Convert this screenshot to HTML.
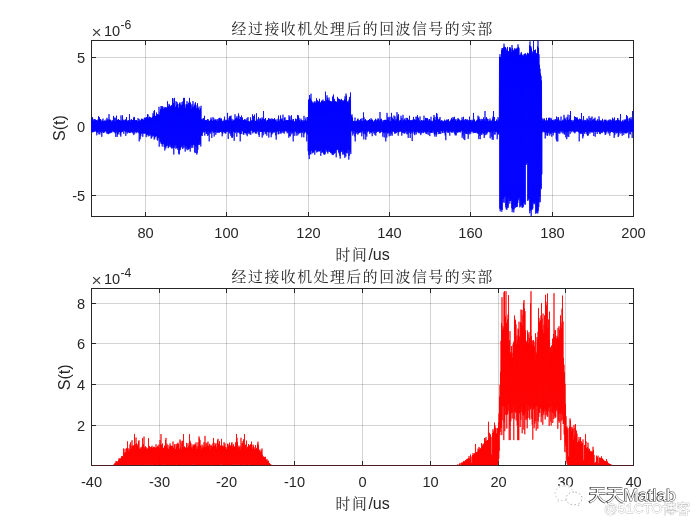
<!DOCTYPE html>
<html lang="zh-CN">
<head>
<meta charset="utf-8">
<title>经过接收机处理后的回波信号的实部</title>
<style>
html,body{margin:0;padding:0;background:#fff;}
body{width:700px;height:525px;overflow:hidden;}
svg{display:block;will-change:transform;}
</style>
</head>
<body>
<svg width="700" height="525" viewBox="0 0 700 525">
<rect width="700" height="525" fill="#fff"/>
<line x1="145.5" y1="40.5" x2="145.5" y2="216.5" stroke="#262626" stroke-opacity="0.2" stroke-width="1"/>
<line x1="226.5" y1="40.5" x2="226.5" y2="216.5" stroke="#262626" stroke-opacity="0.2" stroke-width="1"/>
<line x1="308.5" y1="40.5" x2="308.5" y2="216.5" stroke="#262626" stroke-opacity="0.2" stroke-width="1"/>
<line x1="389.5" y1="40.5" x2="389.5" y2="216.5" stroke="#262626" stroke-opacity="0.2" stroke-width="1"/>
<line x1="470.5" y1="40.5" x2="470.5" y2="216.5" stroke="#262626" stroke-opacity="0.2" stroke-width="1"/>
<line x1="552.5" y1="40.5" x2="552.5" y2="216.5" stroke="#262626" stroke-opacity="0.2" stroke-width="1"/>
<line x1="91.5" y1="57.5" x2="633.5" y2="57.5" stroke="#262626" stroke-opacity="0.2" stroke-width="1"/>
<line x1="91.5" y1="126.5" x2="633.5" y2="126.5" stroke="#262626" stroke-opacity="0.2" stroke-width="1"/>
<line x1="91.5" y1="195.5" x2="633.5" y2="195.5" stroke="#262626" stroke-opacity="0.2" stroke-width="1"/>
<rect x="91.5" y="40.5" width="542.0" height="176.0" fill="none" stroke="#262626" stroke-width="1"/>
<path d="M145.5 216.5v-4.5M145.5 40.5v4.5M226.5 216.5v-4.5M226.5 40.5v4.5M308.5 216.5v-4.5M308.5 40.5v4.5M389.5 216.5v-4.5M389.5 40.5v4.5M470.5 216.5v-4.5M470.5 40.5v4.5M552.5 216.5v-4.5M552.5 40.5v4.5M91.5 57.5h4.5M633.5 57.5h-4.5M91.5 126.5h4.5M633.5 126.5h-4.5M91.5 195.5h4.5M633.5 195.5h-4.5" stroke="#262626" stroke-width="1" fill="none"/>
<polyline points="91.5,118.8 91.8,132.2 92,120.7 92.2,131.9 92.5,117.1 92.8,132.3 93,118.9 93.2,131.7 93.5,120.7 93.8,131.8 94,120.5 94.2,131.8 94.5,119.1 94.8,130.6 95,121.7 95.2,131.4 95.5,119.5 95.8,130.6 96,120.2 96.2,131.6 96.5,120.1 96.8,135.3 97,120.5 97.2,132.6 97.5,121.3 97.8,132.4 98,119.5 98.2,131.1 98.5,116.3 98.8,134.2 99,120.3 99.2,131.5 99.5,117.3 99.8,134.5 100,119 100.2,131.6 100.5,119.3 100.8,131.9 101,121.2 101.2,132.9 101.5,121.8 101.8,136.8 102,119.8 102.2,131.7 102.5,121 102.8,131.3 103,118.6 103.2,133 103.5,121 103.8,132.8 104,121.8 104.2,131.7 104.5,120.6 104.8,132.4 105,120.8 105.2,130.9 105.5,121.1 105.8,131.3 106,119.6 106.2,131.3 106.5,121 106.8,133.2 107,117.8 107.2,133.7 107.5,120.2 107.8,131.7 108,119 108.2,134.2 108.5,120.5 108.8,133.8 109,114.1 109.2,132.6 109.5,119.9 109.8,133.3 110,119.4 110.2,133.1 110.5,120.1 110.8,132.3 111,120.3 111.2,132.4 111.5,121.9 111.8,132.6 112,121.1 112.2,131 112.5,120.3 112.8,131.2 113,121.8 113.2,131.8 113.5,115.9 113.8,131.4 114,117.7 114.2,132.4 114.5,121.3 114.8,131.8 115,117.6 115.2,133.3 115.5,121.6 115.8,136.9 116,118.3 116.2,130.2 116.5,115.7 116.8,132.6 117,120.8 117.2,136.9 117.5,119.8 117.8,134.5 118,120.1 118.2,133.8 118.5,119 118.8,131.8 119,120.2 119.2,132.1 119.5,120 119.8,131.9 120,120.7 120.2,135 120.5,120.7 120.8,136.6 121,115.4 121.2,132.6 121.5,120.6 121.8,132 122,120.9 122.2,131.7 122.5,115.4 122.8,131.5 123,119.5 123.2,131 123.5,120.9 123.8,133.8 124,120.1 124.2,130.1 124.5,120.9 124.8,131.3 125,119.7 125.2,131.1 125.5,119.6 125.8,135.9 126,119.8 126.2,132.1 126.5,117 126.8,131.6 127,121.5 127.2,133.6 127.5,121.2 127.8,131 128,120.2 128.2,132.6 128.5,120.6 128.8,132.2 129,120.7 129.2,132.4 129.5,114.1 129.8,133.1 130,119.9 130.2,132.9 130.5,122 130.8,131.4 131,119.8 131.2,131.7 131.5,119.2 131.8,132.5 132,120.7 132.2,131.9 132.5,120.1 132.8,133.4 133,120 133.2,131.8 133.5,118.1 133.8,135.1 134,116.9 134.2,131 134.5,117.4 134.8,133.6 135,120.6 135.2,132.3 135.5,120.4 135.8,131.3 136,120.1 136.2,132 136.5,120.2 136.8,133.2 137,120.8 137.2,131.8 137.5,121.6 137.8,131.1 138,118.2 138.2,132.1 138.5,121.1 138.8,133.1 139,118.9 139.2,141.4 139.5,121.3 139.8,133.5 140,119.8 140.2,139.3 140.5,120.9 140.8,136.1 141,120.3 141.2,134 141.5,118.7 141.8,132.4 142,119.8 142.2,133.3 142.5,119.3 142.8,136.8 143,118.7 143.2,133.4 143.5,120.1 143.8,133.4 144,120 144.2,133.7 144.5,117.7 144.8,133 145,119.5 145.2,133.6 145.5,117.7 145.8,133.8 146,118.7 146.2,137.1 146.5,117 146.8,134.8 147,118.6 147.2,134.6 147.5,114.4 147.8,134.6 148,114.4 148.2,136.4 148.5,118.4 148.8,135.3 149,117.7 149.2,133.5 149.5,116.7 149.8,136.1 150,118.3 150.2,134.3 150.5,117.3 150.8,135.1 151,117.4 151.2,138.7 151.5,118 151.8,137.5 152,118.1 152.2,135.1 152.5,116.8 152.8,136.5 153,113.2 153.2,135.9 153.5,116 153.8,135.4 154,111 154.2,139.6 154.5,110.3 154.8,138.4 155,115.7 155.2,136.8 155.5,116.1 155.8,136.3 156,115.9 156.2,136.2 156.5,112.6 156.8,136.2 157,116 157.2,139.7 157.5,114.2 157.8,140.7 158,114.5 158.2,138.2 158.5,114.5 158.8,137.3 159,106.8 159.2,146.7 159.5,115 159.8,138.5 160,111.7 160.2,142 160.5,109.2 160.8,142.4 161,106 161.2,144 161.5,108.6 161.8,143.7 162,106.2 162.2,146.5 162.5,106.5 162.8,143.8 163,109.7 163.2,144.3 163.5,108.8 163.8,143.3 164,106.8 164.2,147 164.5,108.2 164.8,150.5 165,107.8 165.2,144.8 165.5,107.2 165.8,148.5 166,108.1 166.2,146.5 166.5,107.4 166.8,145.9 167,108.3 167.2,143.5 167.5,101.3 167.8,145.8 168,106.8 168.2,148.2 168.5,106.3 168.8,147.3 169,103.9 169.2,146.6 169.5,104.9 169.8,144.2 170,108.6 170.2,144.4 170.5,106.3 170.8,147.2 171,105.6 171.2,147.3 171.5,105.2 171.8,148.6 172,106.9 172.2,145.6 172.5,98 172.8,148.3 173,98.5 173.2,147.7 173.5,103.1 173.8,154.5 174,105.4 174.2,147.8 174.5,97.9 174.8,145.5 175,106.7 175.2,145.4 175.5,107.4 175.8,148.6 176,101.2 176.2,145.1 176.5,105.3 176.8,148.2 177,102 177.2,148.1 177.5,103.7 177.8,149.8 178,104.1 178.2,147.2 178.5,108.3 178.8,153.7 179,107.5 179.2,154.5 179.5,103.2 179.8,150.3 180,102.4 180.2,149.7 180.5,104.5 180.8,148.1 181,105.7 181.2,146.9 181.5,105.2 181.8,144.9 182,102.1 182.2,146.6 182.5,103.8 182.8,149 183,101.2 183.2,147.8 183.5,97.9 183.8,145 184,107.4 184.2,145.2 184.5,97.9 184.8,147.5 185,104.4 185.2,151.6 185.5,107.8 185.8,146.1 186,107.7 186.2,148.9 186.5,104.4 186.8,145.9 187,101.2 187.2,150.2 187.5,104.3 187.8,148.1 188,105.8 188.2,149.7 188.5,102.7 188.8,149 189,105.1 189.2,148.6 189.5,97.9 189.8,147.4 190,101.9 190.2,151.6 190.5,103.1 190.8,145.8 191,105.4 191.2,148.1 191.5,108.9 191.8,144.2 192,104.2 192.2,146.1 192.5,107.2 192.8,147.9 193,101.1 193.2,144.6 193.5,107.8 193.8,144.6 194,106.2 194.2,145.2 194.5,105.3 194.8,152.2 195,103.5 195.2,153.1 195.5,102.3 195.8,146.6 196,105.3 196.2,146.5 196.5,108.3 196.8,154.5 197,108.5 197.2,153.1 197.5,103.3 197.8,149.8 198,108.7 198.2,143.9 198.5,108.4 198.8,145.1 199,106.5 199.2,144.9 199.5,110.3 199.8,141.5 200,109.4 200.2,144.1 200.5,108.3 200.8,146.5 201,105.8 201.2,135.1 201.5,119.2 201.8,135.9 202,119.9 202.2,135.7 202.5,119.5 202.8,132.8 203,118.5 203.2,131.8 203.5,118 203.8,131.6 204,121.5 204.2,132.4 204.5,115.8 204.8,135.6 205,120.5 205.2,131.8 205.5,120 205.8,130.9 206,120.4 206.2,133.8 206.5,120.5 206.8,133.9 207,120.5 207.2,131.7 207.5,119.2 207.8,136 208,119 208.2,134.9 208.5,120.5 208.8,130.8 209,121.2 209.2,141.4 209.5,121.2 209.8,132.7 210,120.6 210.2,133.8 210.5,119.8 210.8,131.9 211,117.6 211.2,131.6 211.5,119.3 211.8,137.9 212,122.3 212.2,131 212.5,120.9 212.8,131.4 213,117.1 213.2,133.1 213.5,120 213.8,131.5 214,118.4 214.2,136.5 214.5,120.4 214.8,131.9 215,120 215.2,132 215.5,119.5 215.8,134.8 216,119.6 216.2,132.4 216.5,121 216.8,130.7 217,119.5 217.2,133.1 217.5,121.7 217.8,131.6 218,119 218.2,131.6 218.5,120.8 218.8,132.8 219,118.1 219.2,132.5 219.5,118.3 219.8,132.2 220,117.7 220.2,131.9 220.5,119.1 220.8,131.9 221,120.7 221.2,131.4 221.5,118.5 221.8,132.4 222,120.6 222.2,136.3 222.5,121.2 222.8,133.7 223,121 223.2,131.9 223.5,121.7 223.8,132.1 224,119.6 224.2,131.6 224.5,116.7 224.8,132.9 225,120.9 225.2,133.4 225.5,120.7 225.8,133.5 226,119.7 226.2,131.9 226.5,120.3 226.8,131.8 227,120.3 227.2,131 227.5,112.9 227.8,131.8 228,120.1 228.2,138.9 228.5,120.8 228.8,131.2 229,117.9 229.2,132.5 229.5,116.3 229.8,133.6 230,118.5 230.2,131.2 230.5,116.5 230.8,135.8 231,115.6 231.2,133.4 231.5,120.7 231.8,137.4 232,118.9 232.2,137.9 232.5,121.3 232.8,136.6 233,120.6 233.2,131.6 233.5,120.2 233.8,131.8 234,119.6 234.2,140.8 234.5,120.8 234.8,132.3 235,114.3 235.2,133.2 235.5,118.5 235.8,131.7 236,119.6 236.2,131.2 236.5,117.7 236.8,136.7 237,116.1 237.2,131.7 237.5,118.4 237.8,132.8 238,119.5 238.2,131.6 238.5,113.4 238.8,132.7 239,115.7 239.2,131.9 239.5,119.1 239.8,133.7 240,119.8 240.2,141.4 240.5,117 240.8,134.1 241,120.1 241.2,133.9 241.5,115.5 241.8,131.3 242,119.7 242.2,131 242.5,117.6 242.8,131.4 243,120.8 243.2,134.3 243.5,120.1 243.8,134.8 244,120.5 244.2,133.1 244.5,119.1 244.8,131.9 245,120.3 245.2,133.2 245.5,119.5 245.8,133 246,120.7 246.2,134.5 246.5,120.4 246.8,133 247,118.2 247.2,136.2 247.5,121.3 247.8,132.7 248,117.1 248.2,133.9 248.5,121.2 248.8,131.9 249,121.4 249.2,132.8 249.5,121.8 249.8,134.3 250,121.6 250.2,130.8 250.5,117.4 250.8,134.8 251,121.5 251.2,130.2 251.5,120.9 251.8,130.5 252,120 252.2,130.9 252.5,114.3 252.8,133.4 253,120 253.2,132.2 253.5,116.2 253.8,131.9 254,120.2 254.2,131.8 254.5,114.6 254.8,131.1 255,121.5 255.2,133.2 255.5,120.9 255.8,133.5 256,120.9 256.2,131.1 256.5,113.3 256.8,133.6 257,119.1 257.2,131.8 257.5,121.2 257.8,131.2 258,120.1 258.2,131.1 258.5,117.2 258.8,134.8 259,119 259.2,136.9 259.5,121.7 259.8,130.8 260,118.5 260.2,131.7 260.5,118.5 260.8,132 261,119.5 261.2,132 261.5,120.4 261.8,132 262,117.4 262.2,137.5 262.5,118.5 262.8,132.5 263,121 263.2,135.3 263.5,111 263.8,131.2 264,119.5 264.2,131.9 264.5,119.2 264.8,131.3 265,119.2 265.2,134.2 265.5,118 265.8,131.7 266,121.8 266.2,133.1 266.5,121.4 266.8,135.7 267,120.3 267.2,131.2 267.5,119.9 267.8,131.7 268,119.9 268.2,132.2 268.5,118.4 268.8,137.6 269,118.4 269.2,132.3 269.5,119.2 269.8,131.3 270,120.8 270.2,132.5 270.5,119.3 270.8,131.2 271,118.6 271.2,137.2 271.5,120.5 271.8,134.6 272,118.5 272.2,132.5 272.5,119.2 272.8,133.4 273,119.4 273.2,132 273.5,119.6 273.8,131.7 274,119.2 274.2,132.7 274.5,118.1 274.8,131.6 275,119.8 275.2,131.5 275.5,120.3 275.8,135.4 276,119.4 276.2,139.6 276.5,121.9 276.8,131.3 277,120.8 277.2,131.9 277.5,121.8 277.8,130.7 278,118.7 278.2,134.2 278.5,115.6 278.8,134.2 279,122.1 279.2,131 279.5,120.8 279.8,130.9 280,119.4 280.2,133.6 280.5,115.4 280.8,132 281,119.1 281.2,133.5 281.5,119.3 281.8,131 282,118.3 282.2,132.5 282.5,120.2 282.8,131 283,114.7 283.2,132.8 283.5,121.3 283.8,130.5 284,120.9 284.2,133.7 284.5,117.9 284.8,131.7 285,117.2 285.2,131.2 285.5,120.6 285.8,130.5 286,119.9 286.2,130.9 286.5,120.5 286.8,131.5 287,120.5 287.2,133.3 287.5,120.1 287.8,130.7 288,121 288.2,132.6 288.5,120.1 288.8,137.7 289,115.3 289.2,130.9 289.5,117.5 289.8,136 290,116.3 290.2,136.5 290.5,120.2 290.8,132.4 291,120.7 291.2,131.3 291.5,115.3 291.8,134.3 292,119.7 292.2,132 292.5,121.2 292.8,133 293,119.3 293.2,141.4 293.5,119.2 293.8,131.5 294,121.1 294.2,135.9 294.5,121.7 294.8,131.4 295,121.9 295.2,130.6 295.5,118.7 295.8,132.2 296,119.2 296.2,135.7 296.5,121 296.8,133 297,119.1 297.2,130.9 297.5,115 297.8,135.4 298,117.8 298.2,132.6 298.5,115.5 298.8,133.9 299,117.9 299.2,132.8 299.5,119.9 299.8,132.7 300,120.6 300.2,133.2 300.5,121.8 300.8,131.9 301,118.7 301.2,131.4 301.5,120 301.8,137.2 302,120.9 302.2,132.9 302.5,121.5 302.8,131.7 303,120 303.2,131.1 303.5,121.6 303.8,137.3 304,115.9 304.2,133.7 304.5,120.8 304.8,132.5 305,120.6 305.2,131.3 305.5,119.5 305.8,132.2 306,117.4 306.2,132.5 306.5,120.8 306.8,141.4 307,121 307.2,134.6 307.5,117 307.8,133.9 308,119.5 308.2,151.3 308.5,100.1 308.8,155 309,99.1 309.2,159.1 309.5,95 309.8,151.1 310,99.5 310.2,153.9 310.5,98.2 310.8,154.5 311,93.7 311.2,150.7 311.5,100.4 311.8,150.5 312,101.4 312.2,153.4 312.5,102.6 312.8,152.3 313,103.3 313.2,152.5 313.5,103.5 313.8,152.3 314,101.8 314.2,150.2 314.5,102.5 314.8,154.7 315,101.1 315.2,150.3 315.5,102.7 315.8,149.6 316,103 316.2,150.4 316.5,98.3 316.8,152.5 317,103 317.2,151.7 317.5,100.2 317.8,151.2 318,101.8 318.2,150.3 318.5,101.9 318.8,151.4 319,101 319.2,151.4 319.5,98.8 319.8,150.9 320,102 320.2,151.1 320.5,103.2 320.8,155.9 321,102.6 321.2,149.6 321.5,100.9 321.8,153 322,100.5 322.2,151.6 322.5,100.8 322.8,152 323,99.6 323.2,152.7 323.5,101.7 323.8,154.1 324,101.4 324.2,154.5 324.5,101 324.8,154.6 325,101.6 325.2,153.5 325.5,91.7 325.8,149.5 326,102.8 326.2,149.5 326.5,99.9 326.8,151.3 327,95.3 327.2,152.1 327.5,97.8 327.8,153.5 328,99.9 328.2,151.2 328.5,100 328.8,149.3 329,97.6 329.2,152 329.5,100.6 329.8,151.9 330,101 330.2,151.6 330.5,101.5 330.8,152.9 331,101.4 331.2,153.3 331.5,101.8 331.8,153.1 332,101.5 332.2,154.9 332.5,96.6 332.8,154.3 333,102.1 333.2,155.1 333.5,94.6 333.8,153.1 334,100.9 334.2,153.7 334.5,98.9 334.8,153.2 335,101.2 335.2,152.8 335.5,101.6 335.8,150.7 336,101.4 336.2,157.3 336.5,102.1 336.8,149.2 337,102.5 337.2,149.9 337.5,96.9 337.8,149.5 338,102.2 338.2,150.3 338.5,98.6 338.8,152.5 339,98.9 339.2,153.5 339.5,99.3 339.8,155.7 340,100 340.2,158.6 340.5,100.5 340.8,152.2 341,99.4 341.2,152 341.5,98.9 341.8,149.9 342,103.3 342.2,150.8 342.5,100.3 342.8,154.6 343,101.3 343.2,153.6 343.5,101.4 343.8,150.9 344,100.1 344.2,154.8 344.5,99.2 344.8,157.8 345,96.4 345.2,152.6 345.5,99.9 345.8,156.6 346,93.6 346.2,152.1 346.5,95.7 346.8,152.8 347,101.6 347.2,153.4 347.5,102.1 347.8,149.7 348,101 348.2,150.1 348.5,102.9 348.8,159.6 349,99.6 349.2,155.8 349.5,96.9 349.8,149.8 350,100.5 350.2,152.1 350.5,92.5 350.8,154.1 351,121.3 351.2,130.6 351.5,115.6 351.8,131.5 352,114.4 352.2,130.6 352.5,117.4 352.8,135.5 353,120.8 353.2,133.7 353.5,121.3 353.8,130.7 354,121.2 354.2,131.2 354.5,121.3 354.8,136.5 355,117.6 355.2,141.4 355.5,121.6 355.8,132.7 356,121.1 356.2,133.7 356.5,121.4 356.8,131.7 357,120.5 357.2,132 357.5,119.4 357.8,134.6 358,118.6 358.2,133.5 358.5,121.3 358.8,132.9 359,120.1 359.2,132.6 359.5,121.8 359.8,132.8 360,120 360.2,130.6 360.5,118.9 360.8,132.4 361,119.5 361.2,132.2 361.5,121.2 361.8,136.3 362,118.2 362.2,131.7 362.5,121.4 362.8,130.8 363,121.2 363.2,133.7 363.5,112.4 363.8,139.4 364,117.3 364.2,130.8 364.5,120.6 364.8,133.6 365,120.1 365.2,134.4 365.5,119.1 365.8,139.7 366,121.5 366.2,131 366.5,120.4 366.8,136.6 367,120.8 367.2,132.5 367.5,121.2 367.8,130.9 368,120.5 368.2,130.6 368.5,120 368.8,131.3 369,120.1 369.2,131.8 369.5,119 369.8,133.8 370,120.6 370.2,131.4 370.5,120 370.8,132.6 371,118.2 371.2,132.8 371.5,119.5 371.8,132 372,120.4 372.2,136.2 372.5,119.7 372.8,131.1 373,120.8 373.2,131.6 373.5,121.8 373.8,133.4 374,122 374.2,131.1 374.5,120.5 374.8,134.7 375,120.3 375.2,131.4 375.5,118.8 375.8,135.6 376,119.7 376.2,132.7 376.5,121.7 376.8,131.7 377,119.7 377.2,130.5 377.5,120.2 377.8,131.9 378,118.2 378.2,131.6 378.5,119.1 378.8,131.3 379,120.3 379.2,131.1 379.5,120.9 379.8,133.2 380,112 380.2,132.6 380.5,119 380.8,132.3 381,120.6 381.2,131.6 381.5,118.8 381.8,130.4 382,120.2 382.2,132 382.5,122 382.8,136.7 383,121.6 383.2,132.1 383.5,120.4 383.8,133.3 384,120.7 384.2,137.5 384.5,120 384.8,132.4 385,119.8 385.2,132.7 385.5,120.1 385.8,141.4 386,119.9 386.2,131.8 386.5,120.5 386.8,137.5 387,112.9 387.2,132.1 387.5,119.3 387.8,133.8 388,116.9 388.2,133 388.5,120 388.8,131.7 389,117.4 389.2,136.3 389.5,120.9 389.8,133.5 390,116.8 390.2,131.4 390.5,121.2 390.8,135.8 391,121.3 391.2,134.1 391.5,112.9 391.8,131.3 392,117.3 392.2,135.7 392.5,118.7 392.8,131.7 393,119.4 393.2,131.1 393.5,119.7 393.8,131.6 394,115.6 394.2,131.8 394.5,120.3 394.8,133.9 395,116.4 395.2,133.2 395.5,121 395.8,133.2 396,119 396.2,132.9 396.5,120 396.8,131.6 397,112.1 397.2,132.2 397.5,117.3 397.8,132 398,115.4 398.2,135.6 398.5,114.2 398.8,132.3 399,121.2 399.2,132.1 399.5,121.5 399.8,130.3 400,119.9 400.2,131.2 400.5,120 400.8,131.6 401,115.8 401.2,131.7 401.5,119.8 401.8,135.6 402,118.1 402.2,132.7 402.5,121.3 402.8,132.5 403,114.8 403.2,132.1 403.5,120.1 403.8,133.3 404,120.9 404.2,133.2 404.5,118.7 404.8,133.5 405,120 405.2,132.7 405.5,120.5 405.8,131.5 406,117.9 406.2,131 406.5,120.9 406.8,134.2 407,117.9 407.2,131.6 407.5,118.2 407.8,134.2 408,119.4 408.2,137.9 408.5,120.1 408.8,130.9 409,120.1 409.2,133 409.5,115.8 409.8,131.6 410,120.6 410.2,138 410.5,120.5 410.8,133.8 411,120.5 411.2,131.4 411.5,120.5 411.8,132.5 412,120.4 412.2,141.1 412.5,119.8 412.8,132.6 413,121.5 413.2,131.1 413.5,116.9 413.8,131.6 414,119 414.2,134.1 414.5,119.8 414.8,135.2 415,119.9 415.2,132.6 415.5,120.1 415.8,131.8 416,116.7 416.2,134.4 416.5,119.8 416.8,131.4 417,116.7 417.2,132.3 417.5,115.1 417.8,130.6 418,121.4 418.2,132.4 418.5,117.7 418.8,132.9 419,120 419.2,133.3 419.5,120.8 419.8,132.1 420,116.5 420.2,130.7 420.5,121.3 420.8,135.1 421,121.9 421.2,133.5 421.5,120 421.8,132.2 422,120.1 422.2,132.6 422.5,121.2 422.8,130.8 423,121.1 423.2,133.2 423.5,120.3 423.8,132.4 424,115.7 424.2,132.3 424.5,121.1 424.8,130.9 425,120.2 425.2,131.8 425.5,117.9 425.8,133.6 426,119.2 426.2,132.1 426.5,118.2 426.8,134.1 427,118.3 427.2,132.6 427.5,118.3 427.8,131.6 428,120.5 428.2,134.9 428.5,121.3 428.8,131.7 429,119.2 429.2,130.4 429.5,119.2 429.8,136.1 430,121.4 430.2,133 430.5,120.6 430.8,132 431,116.8 431.2,132.5 431.5,121.4 431.8,132.8 432,120.7 432.2,132.9 432.5,121.6 432.8,130.8 433,121.2 433.2,130.7 433.5,118.1 433.8,132.5 434,115 434.2,134.3 434.5,119.5 434.8,136.5 435,116.9 435.2,132.9 435.5,120 435.8,134.3 436,120.9 436.2,136.7 436.5,113.1 436.8,134.4 437,113.7 437.2,131.9 437.5,116.8 437.8,131.7 438,118.9 438.2,131.7 438.5,119.8 438.8,134.1 439,120.7 439.2,133.9 439.5,118.8 439.8,133 440,117 440.2,131.2 440.5,120.8 440.8,134 441,121.1 441.2,130.8 441.5,120.4 441.8,130.8 442,120.5 442.2,132.6 442.5,121.3 442.8,133.1 443,120.8 443.2,131 443.5,121.7 443.8,130.4 444,121.8 444.2,132.8 444.5,119.7 444.8,132.8 445,121.3 445.2,135.4 445.5,120.8 445.8,140.2 446,120.6 446.2,130.8 446.5,120.6 446.8,131.7 447,119.3 447.2,130.5 447.5,120.2 447.8,132.9 448,120.3 448.2,132.1 448.5,119.2 448.8,132.8 449,121.1 449.2,131 449.5,122 449.8,135.6 450,120.9 450.2,131 450.5,120.6 450.8,131.8 451,119.5 451.2,131.3 451.5,117.9 451.8,132.5 452,119.2 452.2,132.7 452.5,119.7 452.8,131.6 453,117 453.2,131 453.5,118.5 453.8,132.5 454,121.8 454.2,130.9 454.5,116.8 454.8,133.8 455,120.4 455.2,135.4 455.5,119.3 455.8,134.1 456,121.2 456.2,135.4 456.5,120.9 456.8,131.8 457,119.1 457.2,132 457.5,120.2 457.8,133 458,118.1 458.2,131.6 458.5,118.8 458.8,131.9 459,119.1 459.2,132 459.5,120.3 459.8,132.1 460,120.7 460.2,132.5 460.5,121.2 460.8,131 461,120.2 461.2,131.3 461.5,120.6 461.8,130.3 462,117.3 462.2,137.8 462.5,119.5 462.8,135.3 463,121.4 463.2,130.9 463.5,116.8 463.8,139.2 464,120.3 464.2,132.4 464.5,120.7 464.8,140.1 465,119.5 465.2,131.7 465.5,119.1 465.8,133.7 466,121.9 466.2,133.8 466.5,120.2 466.8,133.7 467,119 467.2,134.1 467.5,120.1 467.8,130.5 468,121.8 468.2,138.8 468.5,120.7 468.8,133.6 469,120 469.2,132.1 469.5,116.7 469.8,134.4 470,120.7 470.2,131.4 470.5,120.1 470.8,133.5 471,120.3 471.2,131.6 471.5,122 471.8,130.7 472,119.7 472.2,131.8 472.5,121.5 472.8,131.2 473,120.2 473.2,133.2 473.5,112.9 473.8,132 474,119.9 474.2,132.8 474.5,119.5 474.8,132.6 475,121.5 475.2,133 475.5,121.8 475.8,132 476,121.4 476.2,133.2 476.5,120.7 476.8,131.6 477,119.9 477.2,132.5 477.5,119.7 477.8,133.7 478,115.7 478.2,133.3 478.5,118.3 478.8,139.1 479,116.7 479.2,133.1 479.5,119 479.8,135.8 480,120.3 480.2,139.2 480.5,120.9 480.8,132.5 481,118.9 481.2,134.3 481.5,120.9 481.8,135 482,119.1 482.2,132.8 482.5,119.6 482.8,131.9 483,120.8 483.2,134.1 483.5,117.5 483.8,133.2 484,121.1 484.2,138 484.5,119.5 484.8,135.4 485,111 485.2,131.4 485.5,121.3 485.8,134.8 486,118.4 486.2,132.9 486.5,117.1 486.8,134.4 487,121.2 487.2,132.9 487.5,118.8 487.8,132 488,119 488.2,131.6 488.5,121.3 488.8,131.5 489,121.6 489.2,132.3 489.5,120.6 489.8,132.1 490,118.5 490.2,138.3 490.5,121.3 490.8,132.4 491,120.2 491.2,131.1 491.5,121.3 491.8,136.8 492,121.4 492.2,139.6 492.5,118.7 492.8,132.2 493,116.6 493.2,139.8 493.5,111 493.8,130.9 494,122 494.2,134.6 494.5,117 494.8,131.4 495,121.2 495.2,134.5 495.5,121.3 495.8,131.8 496,121.1 496.2,131.5 496.5,119.5 496.8,132.2 497,120.5 497.2,139.3 497.5,121.4 497.8,133.9 498,117.2 498.2,134.7 498.5,120.2 498.8,132.7 499,118.7 499.2,133.6 499.5,56.9 499.8,208.7 500,54.2 500.2,211.4 500.5,57 500.8,209.3 501,57 501.2,209.4 501.5,50.1 501.8,211.7 502,48.1 502.2,209.8 502.5,48.2 502.8,198.6 503,49.9 503.2,202.4 503.5,47.5 503.8,198.8 504,43.7 504.2,202.8 504.5,46.7 504.8,197 505,48.6 505.2,196.1 505.5,47.2 505.8,207.2 506,48.4 506.2,208.8 506.5,50.4 506.8,209.9 507,50.3 507.2,208.2 507.5,46.9 507.8,205.3 508,51.3 508.2,207.7 508.5,51.3 508.8,198.1 509,51.9 509.2,201 509.5,47.5 509.8,203.6 510,47.1 510.2,201 510.5,48.3 510.8,201 511,49.1 511.2,199.6 511.5,52.2 511.8,208.2 512,45 512.2,212.2 512.5,48.2 512.8,209.6 513,49.7 513.2,209.2 513.5,50.8 513.8,212.4 514,50.2 514.2,209.1 514.5,48.4 514.8,205.3 515,51.9 515.2,207.9 515.5,48.8 515.8,206.5 516,48.8 516.2,207.2 516.5,49.2 516.8,206.6 517,47.8 517.2,206.9 517.5,48 517.8,203 518,44.4 518.2,200.2 518.5,46.9 518.8,198.8 519,47.8 519.2,197.4 519.5,54.9 519.8,207.3 520,54.9 520.2,200.8 520.5,54.6 520.8,206.7 521,52.7 521.2,205.6 521.5,52.4 521.8,205.1 522,54.5 522.2,208 522.5,55.5 522.8,206.6 523,55.4 523.2,207.2 523.5,56.3 523.8,202.5 524,54.2 524.2,201.8 524.5,54.2 524.8,204.3 525,53.5 525.2,204.6 525.5,53.5 525.8,164.9 526,54.8 526.2,164.7 526.5,56.3 526.8,162.5 527,54.2 527.2,163.1 527.5,52.8 527.8,200.9 528,53.5 528.2,200.1 528.5,53.7 528.8,198.4 529,53.8 529.2,198.3 529.5,45.4 529.8,213.3 530,41.4 530.2,210.9 530.5,46.5 530.8,209.4 531,46.5 531.2,216 531.5,48.6 531.8,209.9 532,52.6 532.2,209.5 532.5,52.9 532.8,208.4 533,51.1 533.2,202.8 533.5,40.5 533.8,203.3 534,50.6 534.2,204.3 534.5,50.5 534.8,203.5 535,50.3 535.2,202.2 535.5,49.5 535.8,213.8 536,53 536.2,212.8 536.5,53.8 536.8,211.3 537,53.4 537.2,212.9 537.5,46 537.8,213.5 538,40.5 538.2,210.9 538.5,47.8 538.8,207.1 539,54.3 539.2,202.2 539.5,64.8 539.8,196.9 540,68.7 540.2,202.2 540.5,73.5 540.8,187.7 541,75.8 541.2,189.2 541.5,80.6 541.8,174.3 542,118.1 542.2,131.7 542.5,120.8 542.8,132.4 543,119.2 543.2,131.3 543.5,120.5 543.8,131.5 544,118.5 544.2,132 544.5,118.8 544.8,132.4 545,120.3 545.2,138.5 545.5,120.9 545.8,135 546,120.8 546.2,131.8 546.5,117.9 546.8,133.1 547,121.1 547.2,135.9 547.5,120.4 547.8,135.4 548,121 548.2,131.9 548.5,118.2 548.8,133.1 549,117.6 549.2,131.4 549.5,118 549.8,135.6 550,118.6 550.2,133.6 550.5,120.8 550.8,133.7 551,117.8 551.2,132.5 551.5,119.3 551.8,136.7 552,121.2 552.2,132.8 552.5,120 552.8,131.8 553,120.2 553.2,135.4 553.5,121 553.8,133.1 554,119.4 554.2,131.8 554.5,121.6 554.8,132.4 555,119.9 555.2,130.9 555.5,119.3 555.8,132.9 556,119.8 556.2,139.4 556.5,116.6 556.8,141.4 557,121.5 557.2,130.8 557.5,119.6 557.8,141.4 558,117.1 558.2,133.4 558.5,117.5 558.8,132.9 559,119.7 559.2,131.6 559.5,121.4 559.8,133.9 560,120.7 560.2,131 560.5,120.9 560.8,131.4 561,116.5 561.2,132.6 561.5,121.1 561.8,131.3 562,121.1 562.2,130.3 562.5,120.4 562.8,133.5 563,119.6 563.2,131.5 563.5,120.9 563.8,132.6 564,114.9 564.2,134.4 564.5,119.4 564.8,134.4 565,117.8 565.2,131.5 565.5,119.3 565.8,137.3 566,120.4 566.2,132 566.5,120.5 566.8,139.2 567,116.9 567.2,132.1 567.5,118.5 567.8,136.6 568,114.6 568.2,131.3 568.5,120.1 568.8,136.9 569,120.1 569.2,131.4 569.5,118.7 569.8,130.9 570,115 570.2,133.9 570.5,111 570.8,130.7 571,120.1 571.2,130.9 571.5,120.4 571.8,132.3 572,121.4 572.2,131.2 572.5,121.8 572.8,131 573,119.9 573.2,131 573.5,121.6 573.8,132.2 574,120.6 574.2,132.2 574.5,116.4 574.8,133.3 575,119.8 575.2,132.4 575.5,117 575.8,130.9 576,118.9 576.2,131.6 576.5,118.1 576.8,131.4 577,117.1 577.2,131.2 577.5,118.3 577.8,131.3 578,119.2 578.2,131.8 578.5,119.9 578.8,132.4 579,121.1 579.2,141.4 579.5,118.7 579.8,132.4 580,119.9 580.2,133.2 580.5,119.1 580.8,134.1 581,119.8 581.2,132.7 581.5,113 581.8,133.8 582,119.6 582.2,132.3 582.5,120.9 582.8,138.4 583,121 583.2,136.4 583.5,116.1 583.8,132.1 584,119.9 584.2,132.7 584.5,121.1 584.8,134 585,120.2 585.2,132 585.5,120.9 585.8,131.5 586,119.9 586.2,132.2 586.5,121.8 586.8,133.6 587,118.4 587.2,134.6 587.5,119.2 587.8,136 588,120.7 588.2,135.1 588.5,120.4 588.8,131.6 589,116.1 589.2,130.9 589.5,121.4 589.8,133.7 590,118.2 590.2,132.1 590.5,120.5 590.8,132.1 591,117.8 591.2,132.3 591.5,121.4 591.8,131.3 592,116.5 592.2,132.7 592.5,119.8 592.8,131.5 593,120.9 593.2,131.5 593.5,119.4 593.8,136 594,118.6 594.2,131.9 594.5,119.4 594.8,130.9 595,117.6 595.2,136.7 595.5,120.8 595.8,131.9 596,121.1 596.2,131.5 596.5,120.6 596.8,132 597,121.1 597.2,134 597.5,119.3 597.8,130.8 598,120.9 598.2,132.1 598.5,121.4 598.8,131.9 599,116.4 599.2,132.1 599.5,119.6 599.8,133.8 600,120 600.2,134.2 600.5,121.1 600.8,130.7 601,121.7 601.2,132.9 601.5,120.9 601.8,131.6 602,120.2 602.2,133.1 602.5,118.8 602.8,131.5 603,120.3 603.2,131.7 603.5,122.1 603.8,130.7 604,122.1 604.2,131.7 604.5,119.7 604.8,132.8 605,120.6 605.2,134.9 605.5,119.9 605.8,134.3 606,119.7 606.2,132.4 606.5,121 606.8,132 607,121.6 607.2,131.1 607.5,121.8 607.8,130.7 608,120.2 608.2,133.5 608.5,120.8 608.8,131.7 609,119.7 609.2,131.8 609.5,121.7 609.8,135.6 610,119.5 610.2,132.9 610.5,120.2 610.8,131.6 611,119.8 611.2,131.7 611.5,121.6 611.8,131.8 612,120.6 612.2,132 612.5,117.8 612.8,131.9 613,118.7 613.2,133 613.5,121 613.8,131.2 614,119.1 614.2,137.9 614.5,117.5 614.8,135.1 615,120.4 615.2,132 615.5,120.9 615.8,132.5 616,121.2 616.2,133.6 616.5,120.3 616.8,131.4 617,120.6 617.2,133 617.5,118.3 617.8,132 618,118.3 618.2,137 618.5,120.3 618.8,135.7 619,120 619.2,133.3 619.5,121.3 619.8,131.6 620,120.6 620.2,131.3 620.5,114 620.8,133.7 621,121.7 621.2,130.7 621.5,121.9 621.8,132.9 622,121.4 622.2,135.8 622.5,120.3 622.8,132.7 623,121.9 623.2,132 623.5,121.6 623.8,134.9 624,119.6 624.2,132 624.5,120.7 624.8,133.1 625,119.5 625.2,132.8 625.5,120.4 625.8,133.5 626,119.2 626.2,132.9 626.5,115 626.8,133.2 627,119.1 627.2,132.4 627.5,116.3 627.8,132.3 628,118.6 628.2,130.4 628.5,121.2 628.8,138.2 629,121.6 629.2,130.9 629.5,117.9 629.8,133.7 630,120.8 630.2,134.5 630.5,119.1 630.8,131.6 631,117 631.2,131.3 631.5,120.5 631.8,131.9 632,118.9 632.2,138 632.5,111 632.8,131.2 633,121.2 633.2,132.1 633.5,119.2" fill="none" stroke="#0000ff" stroke-width="0.75" stroke-linejoin="round"/>
<line x1="159.5" y1="288.5" x2="159.5" y2="465.5" stroke="#262626" stroke-opacity="0.2" stroke-width="1"/>
<line x1="226.5" y1="288.5" x2="226.5" y2="465.5" stroke="#262626" stroke-opacity="0.2" stroke-width="1"/>
<line x1="294.5" y1="288.5" x2="294.5" y2="465.5" stroke="#262626" stroke-opacity="0.2" stroke-width="1"/>
<line x1="362.5" y1="288.5" x2="362.5" y2="465.5" stroke="#262626" stroke-opacity="0.2" stroke-width="1"/>
<line x1="430.5" y1="288.5" x2="430.5" y2="465.5" stroke="#262626" stroke-opacity="0.2" stroke-width="1"/>
<line x1="498.5" y1="288.5" x2="498.5" y2="465.5" stroke="#262626" stroke-opacity="0.2" stroke-width="1"/>
<line x1="565.5" y1="288.5" x2="565.5" y2="465.5" stroke="#262626" stroke-opacity="0.2" stroke-width="1"/>
<line x1="91.5" y1="303.5" x2="633.5" y2="303.5" stroke="#262626" stroke-opacity="0.2" stroke-width="1"/>
<line x1="91.5" y1="343.5" x2="633.5" y2="343.5" stroke="#262626" stroke-opacity="0.2" stroke-width="1"/>
<line x1="91.5" y1="384.5" x2="633.5" y2="384.5" stroke="#262626" stroke-opacity="0.2" stroke-width="1"/>
<line x1="91.5" y1="425.5" x2="633.5" y2="425.5" stroke="#262626" stroke-opacity="0.2" stroke-width="1"/>
<rect x="91.5" y="288.5" width="542.0" height="177.0" fill="none" stroke="#262626" stroke-width="1"/>
<path d="M159.5 465.5v-4.5M159.5 288.5v4.5M226.5 465.5v-4.5M226.5 288.5v4.5M294.5 465.5v-4.5M294.5 288.5v4.5M362.5 465.5v-4.5M362.5 288.5v4.5M430.5 465.5v-4.5M430.5 288.5v4.5M498.5 465.5v-4.5M498.5 288.5v4.5M565.5 465.5v-4.5M565.5 288.5v4.5M91.5 303.5h4.5M633.5 303.5h-4.5M91.5 343.5h4.5M633.5 343.5h-4.5M91.5 384.5h4.5M633.5 384.5h-4.5M91.5 425.5h4.5M633.5 425.5h-4.5" stroke="#262626" stroke-width="1" fill="none"/>
<polyline points="91.5,465.5 91.8,465.5 92,465.5 92.2,465.5 92.5,465.5 92.8,465.5 93,465.5 93.2,465.5 93.5,465.5 93.8,465.5 94,465.5 94.2,465.5 94.5,465.5 94.8,465.5 95,465.5 95.2,465.5 95.5,465.5 95.8,465.5 96,465.5 96.2,465.5 96.5,465.5 96.8,465.5 97,465.5 97.2,465.5 97.5,465.5 97.8,465.5 98,465.5 98.2,465.5 98.5,465.5 98.8,465.5 99,465.5 99.2,465.5 99.5,465.5 99.8,465.5 100,465.5 100.2,465.5 100.5,465.5 100.8,465.5 101,465.5 101.2,465.5 101.5,465.5 101.8,465.5 102,465.5 102.2,465.5 102.5,465.5 102.8,465.5 103,465.5 103.2,465.5 103.5,465.5 103.8,465.5 104,465.5 104.2,465.5 104.5,465.5 104.8,465.5 105,465.5 105.2,465.5 105.5,465.5 105.8,465.5 106,465.5 106.2,465.5 106.5,465.5 106.8,465.5 107,465.5 107.2,465.5 107.5,465.5 107.8,465.5 108,465.5 108.2,465.5 108.5,465.5 108.8,465.5 109,465.5 109.2,465.5 109.5,465.5 109.8,465.5 110,465.5 110.2,465.5 110.5,465.5 110.8,465.5 111,465.5 111.2,465.5 111.5,465.5 111.8,465.5 112,465.5 112.2,465.5 112.5,465.5 112.8,465.5 113,465.5 113.2,465.5 113.5,464.9 113.8,465.5 114,464.5 114.2,465.5 114.5,463.8 114.8,465.5 115,462.9 115.2,465.5 115.5,463.4 115.8,465.5 116,461.1 116.2,465.5 116.5,461.2 116.8,465.5 117,462.2 117.2,465.5 117.5,461.7 117.8,465.5 118,461.5 118.2,465.5 118.5,460 118.8,465.5 119,458.2 119.2,465.5 119.5,459.5 119.8,465.5 120,458.4 120.2,465.5 120.5,458.9 120.8,465.5 121,457.9 121.2,465.5 121.5,456.6 121.8,465.5 122,456 122.2,465.5 122.5,456.3 122.8,465.5 123,456.8 123.2,465.5 123.5,448.5 123.8,465.3 124,452.5 124.2,465.5 124.5,453.7 124.8,465.5 125,448.8 125.2,465.4 125.5,452.1 125.8,465.5 126,452.6 126.2,465.5 126.5,448.2 126.8,465.5 127,448.7 127.2,465.4 127.5,441.4 127.8,465.2 128,448.7 128.2,465.5 128.5,451.8 128.8,465.5 129,448.5 129.2,464.7 129.5,450.6 129.8,464.5 130,444.4 130.2,465 130.5,442.4 130.8,465.1 131,445.8 131.2,465.2 131.5,449.5 131.8,464.6 132,440.3 132.2,464.2 132.5,445.7 132.8,465.5 133,446.8 133.2,465.5 133.5,446 133.8,465.4 134,445 134.2,464.9 134.5,434 134.8,465.4 135,449.2 135.2,464.8 135.5,444.3 135.8,465.5 136,437.5 136.2,465 136.5,443.3 136.8,464.3 137,443.9 137.2,465 137.5,445.5 137.8,465.3 138,446.5 138.2,465.2 138.5,441.3 138.8,465 139,440.3 139.2,465.5 139.5,449.2 139.8,464.8 140,448.4 140.2,464.5 140.5,448.9 140.8,465.1 141,447.1 141.2,464.3 141.5,448.1 141.8,465.5 142,446.6 142.2,465.5 142.5,438.1 142.8,464.9 143,450 143.2,464.6 143.5,444.1 143.8,465.5 144,436.6 144.2,465.5 144.5,448.3 144.8,465.5 145,447.2 145.2,464.5 145.5,446.3 145.8,464.5 146,447 146.2,465.3 146.5,448.7 146.8,465.5 147,448.8 147.2,464.6 147.5,449.3 147.8,464.4 148,447.9 148.2,465.4 148.5,438 148.8,464.5 149,445.9 149.2,465.5 149.5,446.5 149.8,465.5 150,449.8 150.2,465.5 150.5,447.1 150.8,465.5 151,448.8 151.2,465.3 151.5,447 151.8,464.3 152,445.7 152.2,464.2 152.5,447.8 152.8,465.5 153,448.7 153.2,464.7 153.5,447.2 153.8,465.5 154,446.7 154.2,465.5 154.5,447 154.8,465.5 155,449.2 155.2,465.5 155.5,447.9 155.8,464.9 156,444.2 156.2,465.5 156.5,447.8 156.8,464.2 157,447.1 157.2,465.4 157.5,446.4 157.8,464.7 158,445.6 158.2,464.8 158.5,447.1 158.8,465.5 159,444.6 159.2,464.3 159.5,448.2 159.8,465 160,440.1 160.2,465.5 160.5,444.3 160.8,464.8 161,434 161.2,465.5 161.5,444.7 161.8,464.8 162,446.4 162.2,465.4 162.5,443.5 162.8,464.4 163,449.6 163.2,465.5 163.5,447.8 163.8,464.2 164,448.1 164.2,465.5 164.5,445.7 164.8,464.7 165,447.1 165.2,465.5 165.5,440.2 165.8,464.2 166,437.9 166.2,465.5 166.5,446.2 166.8,465.5 167,443.8 167.2,465.5 167.5,448.3 167.8,465.5 168,445.1 168.2,465.4 168.5,449 168.8,464.7 169,448.7 169.2,464.2 169.5,446.6 169.8,465.5 170,443.4 170.2,465.5 170.5,445.6 170.8,465.5 171,445.8 171.2,465.5 171.5,445.9 171.8,465.2 172,446.8 172.2,465 172.5,445.9 172.8,465.5 173,441.5 173.2,464.4 173.5,448 173.8,465.1 174,447.5 174.2,465.5 174.5,444.3 174.8,465.4 175,449.3 175.2,464.8 175.5,449 175.8,465.5 176,444.1 176.2,464.5 176.5,447 176.8,464.5 177,443.8 177.2,465.5 177.5,443.8 177.8,465.5 178,442.7 178.2,465.5 178.5,444.3 178.8,465 179,448.7 179.2,465.5 179.5,449.5 179.8,465.5 180,439.5 180.2,465.5 180.5,447.7 180.8,465.5 181,440.9 181.2,464.8 181.5,449.6 181.8,465.5 182,443.3 182.2,464.3 182.5,440.8 182.8,465.2 183,448 183.2,464.8 183.5,434 183.8,465.5 184,447 184.2,465.1 184.5,446.5 184.8,465.5 185,447.5 185.2,465.5 185.5,447.8 185.8,465.5 186,447.9 186.2,465.5 186.5,442.9 186.8,465.1 187,447.5 187.2,465 187.5,448 187.8,465.5 188,443.3 188.2,464.3 188.5,446.3 188.8,465.5 189,446.1 189.2,465.5 189.5,434.2 189.8,465.5 190,440.7 190.2,465.1 190.5,442.4 190.8,465.5 191,443.6 191.2,465.5 191.5,447.9 191.8,464.2 192,446.7 192.2,465.3 192.5,449.1 192.8,464.6 193,444.5 193.2,464.4 193.5,446.1 193.8,465.2 194,444.7 194.2,464.4 194.5,445.2 194.8,465.1 195,443.9 195.2,464.6 195.5,445.4 195.8,465.5 196,442.3 196.2,465.4 196.5,449.5 196.8,465.5 197,446.3 197.2,465.5 197.5,448.8 197.8,465.5 198,442.4 198.2,465.5 198.5,446.6 198.8,465.5 199,436.4 199.2,465.1 199.5,438.3 199.8,465.4 200,439.9 200.2,465.5 200.5,445.7 200.8,465.5 201,446.5 201.2,465.5 201.5,449.7 201.8,464.8 202,444.5 202.2,465.5 202.5,447.9 202.8,464.7 203,445.7 203.2,465.5 203.5,447.8 203.8,465.4 204,442.1 204.2,465.5 204.5,446.6 204.8,464.5 205,435.9 205.2,464.8 205.5,446.8 205.8,465.5 206,443.2 206.2,465.5 206.5,446.8 206.8,464.4 207,442.7 207.2,465.5 207.5,445.4 207.8,465.4 208,441.5 208.2,465 208.5,446 208.8,465.5 209,447.9 209.2,465.5 209.5,443.8 209.8,465.5 210,445.5 210.2,465.5 210.5,449.8 210.8,464.2 211,444.7 211.2,464.4 211.5,445.8 211.8,465.3 212,446.4 212.2,465.1 212.5,446.9 212.8,465.5 213,443.2 213.2,465.5 213.5,438 213.8,465.5 214,442.7 214.2,465.5 214.5,445.9 214.8,465.1 215,445.7 215.2,465.5 215.5,444.4 215.8,465.5 216,443.2 216.2,465.5 216.5,449.2 216.8,464.9 217,446.9 217.2,465.5 217.5,440.2 217.8,465.5 218,438.8 218.2,465.5 218.5,444.2 218.8,464.4 219,443.6 219.2,465.5 219.5,441.1 219.8,465.5 220,446.5 220.2,464.6 220.5,446.1 220.8,465.5 221,445.2 221.2,464.4 221.5,438.9 221.8,464.2 222,445.3 222.2,465.5 222.5,446 222.8,465.2 223,447.2 223.2,465.5 223.5,446.5 223.8,465.5 224,442.3 224.2,465.1 224.5,445.5 224.8,464.7 225,443.4 225.2,465.3 225.5,447.2 225.8,464.8 226,447.2 226.2,465.5 226.5,449.4 226.8,465.5 227,449.2 227.2,465.5 227.5,443.7 227.8,465.5 228,444.2 228.2,465.5 228.5,446.4 228.8,465.3 229,445.5 229.2,465.5 229.5,442.6 229.8,465.5 230,445.8 230.2,465.5 230.5,446.6 230.8,465.3 231,444.9 231.2,465 231.5,442.9 231.8,465.5 232,442.3 232.2,465 232.5,447.6 232.8,464.5 233,445.5 233.2,464.5 233.5,444.3 233.8,464.9 234,446.7 234.2,464.2 234.5,446.7 234.8,464.9 235,447 235.2,465.2 235.5,442.4 235.8,464.6 236,446.8 236.2,464.6 236.5,434 236.8,465 237,437.8 237.2,464.8 237.5,442.1 237.8,464.6 238,445.5 238.2,465.4 238.5,448.7 238.8,465.4 239,446.8 239.2,464.7 239.5,447.5 239.8,464.5 240,445.7 240.2,464.8 240.5,449.9 240.8,464.7 241,437.8 241.2,465.5 241.5,447.1 241.8,465.5 242,443.1 242.2,465.5 242.5,443.5 242.8,465.5 243,441 243.2,465.5 243.5,439.4 243.8,464.7 244,446.2 244.2,464.7 244.5,434 244.8,464.3 245,445.1 245.2,465.1 245.5,444.7 245.8,465.5 246,449.2 246.2,465.5 246.5,440.6 246.8,465 247,448.5 247.2,465.5 247.5,446.8 247.8,465.5 248,448 248.2,464.9 248.5,444 248.8,464.3 249,445.3 249.2,465.5 249.5,445.6 249.8,464.6 250,446.3 250.2,465.5 250.5,444.5 250.8,465.5 251,444.3 251.2,465 251.5,441.6 251.8,465.1 252,447.5 252.2,465.5 252.5,449 252.8,465.5 253,444.6 253.2,465.2 253.5,445.8 253.8,465.5 254,447.2 254.2,465.5 254.5,449 254.8,465.5 255,449.8 255.2,465.5 255.5,445.1 255.8,465.4 256,449.2 256.2,465.5 256.5,447.9 256.8,465.5 257,450.3 257.2,465.5 257.5,443.8 257.8,465.5 258,441.7 258.2,465.2 258.5,445.3 258.8,465.2 259,450.3 259.2,465.5 259.5,450.6 259.8,465.5 260,449.6 260.2,465.5 260.5,452.3 260.8,465.5 261,451.9 261.2,465.5 261.5,450.6 261.8,465.5 262,448.5 262.2,465.4 262.5,455.1 262.8,465.5 263,456.2 263.2,465.5 263.5,457 263.8,465.5 264,456.8 264.2,465.5 264.5,457.5 264.8,465.5 265,457 265.2,465.5 265.5,456.8 265.8,465.5 266,460.1 266.2,465.5 266.5,459.9 266.8,465.5 267,459 267.2,465.5 267.5,460.9 267.8,465.5 268,461.8 268.2,465.5 268.5,460.7 268.8,465.5 269,463.1 269.2,465.5 269.5,463 269.8,465.5 270,464 270.2,465.5 270.5,464.5 270.8,465.5 271,464.7 271.2,465.5 271.5,465.5 271.8,465.5 272,465.5 272.2,465.5 272.5,465.5 272.8,465.5 273,465.5 273.2,465.5 273.5,465.5 273.8,465.5 274,465.5 274.2,465.5 274.5,465.5 274.8,465.5 275,465.5 275.2,465.5 275.5,465.5 275.8,465.5 276,465.5 276.2,465.5 276.5,465.5 276.8,465.5 277,465.5 277.2,465.5 277.5,465.5 277.8,465.5 278,465.5 278.2,465.5 278.5,465.5 278.8,465.5 279,465.5 279.2,465.5 279.5,465.5 279.8,465.5 280,465.5 280.2,465.5 280.5,465.5 280.8,465.5 281,465.5 281.2,465.5 281.5,465.5 281.8,465.5 282,465.5 282.2,465.5 282.5,465.5 282.8,465.5 283,465.5 283.2,465.5 283.5,465.5 283.8,465.5 284,465.5 284.2,465.5 284.5,465.5 284.8,465.5 285,465.5 285.2,465.5 285.5,465.5 285.8,465.5 286,465.5 286.2,465.5 286.5,465.5 286.8,465.5 287,465.5 287.2,465.5 287.5,465.5 287.8,465.5 288,465.5 288.2,465.5 288.5,465.5 288.8,465.5 289,465.5 289.2,465.5 289.5,465.5 289.8,465.5 290,465.5 290.2,465.5 290.5,465.5 290.8,465.5 291,465.5 291.2,465.5 291.5,465.5 291.8,465.5 292,465.5 292.2,465.5 292.5,465.5 292.8,465.5 293,465.5 293.2,465.5 293.5,465.5 293.8,465.5 294,465.5 294.2,465.5 294.5,465.5 294.8,465.5 295,465.5 295.2,465.5 295.5,465.5 295.8,465.5 296,465.5 296.2,465.5 296.5,465.5 296.8,465.5 297,465.5 297.2,465.5 297.5,465.5 297.8,465.5 298,465.5 298.2,465.5 298.5,465.5 298.8,465.5 299,465.5 299.2,465.5 299.5,465.5 299.8,465.5 300,465.5 300.2,465.5 300.5,465.5 300.8,465.5 301,465.5 301.2,465.5 301.5,465.5 301.8,465.5 302,465.5 302.2,465.5 302.5,465.5 302.8,465.5 303,465.5 303.2,465.5 303.5,465.5 303.8,465.5 304,465.5 304.2,465.5 304.5,465.5 304.8,465.5 305,465.5 305.2,465.5 305.5,465.5 305.8,465.5 306,465.5 306.2,465.5 306.5,465.5 306.8,465.5 307,465.5 307.2,465.5 307.5,465.5 307.8,465.5 308,465.5 308.2,465.5 308.5,465.5 308.8,465.5 309,465.5 309.2,465.5 309.5,465.5 309.8,465.5 310,465.5 310.2,465.5 310.5,465.5 310.8,465.5 311,465.5 311.2,465.5 311.5,465.5 311.8,465.5 312,465.5 312.2,465.5 312.5,465.5 312.8,465.5 313,465.5 313.2,465.5 313.5,465.5 313.8,465.5 314,465.5 314.2,465.5 314.5,465.5 314.8,465.5 315,465.5 315.2,465.5 315.5,465.5 315.8,465.5 316,465.5 316.2,465.5 316.5,465.5 316.8,465.5 317,465.5 317.2,465.5 317.5,465.5 317.8,465.5 318,465.5 318.2,465.5 318.5,465.5 318.8,465.5 319,465.5 319.2,465.5 319.5,465.5 319.8,465.5 320,465.5 320.2,465.5 320.5,465.5 320.8,465.5 321,465.5 321.2,465.5 321.5,465.5 321.8,465.5 322,465.5 322.2,465.5 322.5,465.5 322.8,465.5 323,465.5 323.2,465.5 323.5,465.5 323.8,465.5 324,465.5 324.2,465.5 324.5,465.5 324.8,465.5 325,465.5 325.2,465.5 325.5,465.5 325.8,465.5 326,465.5 326.2,465.5 326.5,465.5 326.8,465.5 327,465.5 327.2,465.5 327.5,465.5 327.8,465.5 328,465.5 328.2,465.5 328.5,465.5 328.8,465.5 329,465.5 329.2,465.5 329.5,465.5 329.8,465.5 330,465.5 330.2,465.5 330.5,465.5 330.8,465.5 331,465.5 331.2,465.5 331.5,465.5 331.8,465.5 332,465.5 332.2,465.5 332.5,465.5 332.8,465.5 333,465.5 333.2,465.5 333.5,465.5 333.8,465.5 334,465.5 334.2,465.5 334.5,465.5 334.8,465.5 335,465.5 335.2,465.5 335.5,465.5 335.8,465.5 336,465.5 336.2,465.5 336.5,465.5 336.8,465.5 337,465.5 337.2,465.5 337.5,465.5 337.8,465.5 338,465.5 338.2,465.5 338.5,465.5 338.8,465.5 339,465.5 339.2,465.5 339.5,465.5 339.8,465.5 340,465.5 340.2,465.5 340.5,465.5 340.8,465.5 341,465.5 341.2,465.5 341.5,465.5 341.8,465.5 342,465.5 342.2,465.5 342.5,465.5 342.8,465.5 343,465.5 343.2,465.5 343.5,465.5 343.8,465.5 344,465.5 344.2,465.5 344.5,465.5 344.8,465.5 345,465.5 345.2,465.5 345.5,465.5 345.8,465.5 346,465.5 346.2,465.5 346.5,465.5 346.8,465.5 347,465.5 347.2,465.5 347.5,465.5 347.8,465.5 348,465.5 348.2,465.5 348.5,465.5 348.8,465.5 349,465.5 349.2,465.5 349.5,465.5 349.8,465.5 350,465.5 350.2,465.5 350.5,465.5 350.8,465.5 351,465.5 351.2,465.5 351.5,465.5 351.8,465.5 352,465.5 352.2,465.5 352.5,465.5 352.8,465.5 353,465.5 353.2,465.5 353.5,465.5 353.8,465.5 354,465.5 354.2,465.5 354.5,465.5 354.8,465.5 355,465.5 355.2,465.5 355.5,465.5 355.8,465.5 356,465.5 356.2,465.5 356.5,465.5 356.8,465.5 357,465.5 357.2,465.5 357.5,465.5 357.8,465.5 358,465.5 358.2,465.5 358.5,465.5 358.8,465.5 359,465.5 359.2,465.5 359.5,465.5 359.8,465.5 360,465.5 360.2,465.5 360.5,465.5 360.8,465.5 361,465.5 361.2,465.5 361.5,465.5 361.8,465.5 362,465.5 362.2,465.5 362.5,465.5 362.8,465.5 363,465.5 363.2,465.5 363.5,465.5 363.8,465.5 364,465.5 364.2,465.5 364.5,465.5 364.8,465.5 365,465.5 365.2,465.5 365.5,465.5 365.8,465.5 366,465.5 366.2,465.5 366.5,465.5 366.8,465.5 367,465.5 367.2,465.5 367.5,465.5 367.8,465.5 368,465.5 368.2,465.5 368.5,465.5 368.8,465.5 369,465.5 369.2,465.5 369.5,465.5 369.8,465.5 370,465.5 370.2,465.5 370.5,465.5 370.8,465.5 371,465.5 371.2,465.5 371.5,465.5 371.8,465.5 372,465.5 372.2,465.5 372.5,465.5 372.8,465.5 373,465.5 373.2,465.5 373.5,465.5 373.8,465.5 374,465.5 374.2,465.5 374.5,465.5 374.8,465.5 375,465.5 375.2,465.5 375.5,465.5 375.8,465.5 376,465.5 376.2,465.5 376.5,465.5 376.8,465.5 377,465.5 377.2,465.5 377.5,465.5 377.8,465.5 378,465.5 378.2,465.5 378.5,465.5 378.8,465.5 379,465.5 379.2,465.5 379.5,465.5 379.8,465.5 380,465.5 380.2,465.5 380.5,465.5 380.8,465.5 381,465.5 381.2,465.5 381.5,465.5 381.8,465.5 382,465.5 382.2,465.5 382.5,465.5 382.8,465.5 383,465.5 383.2,465.5 383.5,465.5 383.8,465.5 384,465.5 384.2,465.5 384.5,465.5 384.8,465.5 385,465.5 385.2,465.5 385.5,465.5 385.8,465.5 386,465.5 386.2,465.5 386.5,465.5 386.8,465.5 387,465.5 387.2,465.5 387.5,465.5 387.8,465.5 388,465.5 388.2,465.5 388.5,465.5 388.8,465.5 389,465.5 389.2,465.5 389.5,465.5 389.8,465.5 390,465.5 390.2,465.5 390.5,465.5 390.8,465.5 391,465.5 391.2,465.5 391.5,465.5 391.8,465.5 392,465.5 392.2,465.5 392.5,465.5 392.8,465.5 393,465.5 393.2,465.5 393.5,465.5 393.8,465.5 394,465.5 394.2,465.5 394.5,465.5 394.8,465.5 395,465.5 395.2,465.5 395.5,465.5 395.8,465.5 396,465.5 396.2,465.5 396.5,465.5 396.8,465.5 397,465.5 397.2,465.5 397.5,465.5 397.8,465.5 398,465.5 398.2,465.5 398.5,465.5 398.8,465.5 399,465.5 399.2,465.5 399.5,465.5 399.8,465.5 400,465.5 400.2,465.5 400.5,465.5 400.8,465.5 401,465.5 401.2,465.5 401.5,465.5 401.8,465.5 402,465.5 402.2,465.5 402.5,465.5 402.8,465.5 403,465.5 403.2,465.5 403.5,465.5 403.8,465.5 404,465.5 404.2,465.5 404.5,465.5 404.8,465.5 405,465.5 405.2,465.5 405.5,465.5 405.8,465.5 406,465.5 406.2,465.5 406.5,465.5 406.8,465.5 407,465.5 407.2,465.5 407.5,465.5 407.8,465.5 408,465.5 408.2,465.5 408.5,465.5 408.8,465.5 409,465.5 409.2,465.5 409.5,465.5 409.8,465.5 410,465.5 410.2,465.5 410.5,465.5 410.8,465.5 411,465.5 411.2,465.5 411.5,465.5 411.8,465.5 412,465.5 412.2,465.5 412.5,465.5 412.8,465.5 413,465.5 413.2,465.5 413.5,465.5 413.8,465.5 414,465.5 414.2,465.5 414.5,465.5 414.8,465.5 415,465.5 415.2,465.5 415.5,465.5 415.8,465.5 416,465.5 416.2,465.5 416.5,465.5 416.8,465.5 417,465.5 417.2,465.5 417.5,465.5 417.8,465.5 418,465.5 418.2,465.5 418.5,465.5 418.8,465.5 419,465.5 419.2,465.5 419.5,465.5 419.8,465.5 420,465.5 420.2,465.5 420.5,465.5 420.8,465.5 421,465.5 421.2,465.5 421.5,465.5 421.8,465.5 422,465.5 422.2,465.5 422.5,465.5 422.8,465.5 423,465.5 423.2,465.5 423.5,465.5 423.8,465.5 424,465.5 424.2,465.5 424.5,465.5 424.8,465.5 425,465.5 425.2,465.5 425.5,465.5 425.8,465.5 426,465.5 426.2,465.5 426.5,465.5 426.8,465.5 427,465.5 427.2,465.5 427.5,465.5 427.8,465.5 428,465.5 428.2,465.5 428.5,465.5 428.8,465.5 429,465.5 429.2,465.5 429.5,465.5 429.8,465.5 430,465.5 430.2,465.5 430.5,465.5 430.8,465.5 431,465.5 431.2,465.5 431.5,465.5 431.8,465.5 432,465.5 432.2,465.5 432.5,465.5 432.8,465.5 433,465.5 433.2,465.5 433.5,465.5 433.8,465.5 434,465.5 434.2,465.5 434.5,465.5 434.8,465.5 435,465.5 435.2,465.5 435.5,465.5 435.8,465.5 436,465.5 436.2,465.5 436.5,465.5 436.8,465.5 437,465.5 437.2,465.5 437.5,465.5 437.8,465.5 438,465.5 438.2,465.5 438.5,465.5 438.8,465.5 439,465.5 439.2,465.5 439.5,465.5 439.8,465.5 440,465.5 440.2,465.5 440.5,465.5 440.8,465.5 441,465.5 441.2,465.5 441.5,465.5 441.8,465.5 442,465.5 442.2,465.5 442.5,465.5 442.8,465.5 443,465.5 443.2,465.5 443.5,465.5 443.8,465.5 444,465.5 444.2,465.5 444.5,465.5 444.8,465.5 445,465.5 445.2,465.5 445.5,465.5 445.8,465.5 446,465.5 446.2,465.5 446.5,465.5 446.8,465.5 447,465.5 447.2,465.5 447.5,465.5 447.8,465.5 448,465.5 448.2,465.5 448.5,465.5 448.8,465.5 449,465.5 449.2,465.5 449.5,465.5 449.8,465.5 450,465.5 450.2,465.5 450.5,465.5 450.8,465.5 451,465.5 451.2,465.5 451.5,465.5 451.8,465.5 452,465.5 452.2,465.5 452.5,465.5 452.8,465.5 453,465.5 453.2,465.5 453.5,465.5 453.8,465.5 454,465.5 454.2,465.5 454.5,465.5 454.8,465.5 455,465.5 455.2,465.5 455.5,465.5 455.8,465.5 456,465.5 456.2,465.5 456.5,465.5 456.8,465.5 457,465.5 457.2,465.5 457.5,464.7 457.8,465.5 458,464.6 458.2,465.5 458.5,465.5 458.8,465.5 459,465.5 459.2,465.5 459.5,463.9 459.8,465.5 460,462.9 460.2,465.5 460.5,465.5 460.8,465.5 461,465.4 461.2,465.5 461.5,462.7 461.8,465.5 462,462.9 462.2,465.5 462.5,462.6 462.8,465.5 463,462.5 463.2,465.5 463.5,461.3 463.8,465.5 464,460.9 464.2,465.5 464.5,461.7 464.8,465.5 465,461.6 465.2,465.5 465.5,460.2 465.8,465.5 466,460.5 466.2,465.5 466.5,459.1 466.8,465.5 467,460.6 467.2,465.5 467.5,458.9 467.8,465.5 468,458.6 468.2,465.5 468.5,458.3 468.8,465.5 469,456.1 469.2,465.5 469.5,459.2 469.8,465.5 470,458.3 470.2,465.5 470.5,454.5 470.8,465.5 471,456.5 471.2,465.5 471.5,463.3 471.8,465.5 472,462.8 472.2,465.5 472.5,455.2 472.8,465.5 473,453 473.2,465.5 473.5,454.9 473.8,465.5 474,454.3 474.2,465.5 474.5,453.2 474.8,465.5 475,454.3 475.2,465.5 475.5,444 475.8,465.5 476,452.1 476.2,465.5 476.5,452.1 476.8,465.5 477,452.8 477.2,465.5 477.5,451.7 477.8,465.5 478,448.6 478.2,465.5 478.5,449.8 478.8,465.5 479,446.9 479.2,465.5 479.5,450.3 479.8,465.5 480,448 480.2,465.5 480.5,448.6 480.8,465.5 481,448.9 481.2,465.5 481.5,443.2 481.8,465.5 482,447.2 482.2,465.5 482.5,445.7 482.8,465.5 483,443.9 483.2,465.5 483.5,444.5 483.8,465.5 484,443.4 484.2,465.5 484.5,438.1 484.8,465.5 485,438.7 485.2,465.5 485.5,441.2 485.8,465.5 486,437.1 486.2,465.5 486.5,441 486.8,465.5 487,440.9 487.2,465.5 487.5,440.1 487.8,465.5 488,440.4 488.2,465.5 488.5,421.8 488.8,465.5 489,438.7 489.2,465.5 489.5,432.8 489.8,465.5 490,438.4 490.2,465.5 490.5,434.4 490.8,465.5 491,436.9 491.2,465.5 491.5,454.6 491.8,465.5 492,457.2 492.2,465.5 492.5,433.2 492.8,465.5 493,429.2 493.2,465.5 493.5,431.5 493.8,465.5 494,433.9 494.2,465.5 494.5,422.6 494.8,465.5 495,425.4 495.2,465.5 495.5,427.9 495.8,465.5 496,428.2 496.2,465.5 496.5,433.9 496.8,465.5 497,433.3 497.2,465.5 497.5,428.1 497.8,464 498,427.9 498.2,461.4 498.5,422.6 498.8,458.6 499,413.5 499.2,450.9 499.5,396.7 499.8,435.2 500,384.9 500.2,432.1 500.5,371.8 500.8,428.5 501,340.8 501.2,427.2 501.5,323.2 501.8,435.1 502,297.2 502.2,420.1 502.5,330.4 502.8,406.6 503,326.2 503.2,406 503.5,328.4 503.8,440.1 504,292.2 504.2,422.1 504.5,291.2 504.8,431.2 505,317.4 505.2,406.9 505.5,316.4 505.8,414.8 506,291.2 506.2,414.8 506.5,322.8 506.8,428.6 507,325.9 507.2,414.8 507.5,319.5 507.8,413.7 508,314.6 508.2,404.1 508.5,295.2 508.8,410.6 509,345.1 509.2,440.1 509.5,340.4 509.8,425.7 510,331.1 510.2,440.1 510.5,353.6 510.8,421.2 511,352.1 511.2,413.5 511.5,346 511.8,411.9 512,352.9 512.2,418.5 512.5,357.8 512.8,412.6 513,344.5 513.2,406.6 513.5,342.8 513.8,440.1 514,341.3 514.2,419.1 514.5,315.5 514.8,412.3 515,320.4 515.2,410.1 515.5,319.7 515.8,412.7 516,324.4 516.2,420.5 516.5,344.2 516.8,412.3 517,335.5 517.2,425.5 517.5,340 517.8,440.1 518,328.6 518.2,440.1 518.5,330.2 518.8,440.1 519,321.7 519.2,413.3 519.5,336.6 519.8,413.3 520,341.1 520.2,427 520.5,322.3 520.8,419.9 521,309.6 521.2,411.9 521.5,323.5 521.8,407.1 522,309.9 522.2,433.3 522.5,325.8 522.8,414.4 523,315.1 523.2,415.3 523.5,302.9 523.8,429.7 524,300.1 524.2,415.3 524.5,308.7 524.8,434.3 525,311.2 525.2,412.6 525.5,330.3 525.8,419.7 526,342.2 526.2,405 526.5,342.2 526.8,419.8 527,340.6 527.2,428.3 527.5,330.5 527.8,418 528,334.6 528.2,410.8 528.5,343.1 528.8,405.9 529,332.2 529.2,417.8 529.5,338 529.8,419.7 530,344.7 530.2,409.7 530.5,303.1 530.8,408.3 531,291.2 531.2,406.4 531.5,336.2 531.8,418.9 532,340.6 532.2,424.8 532.5,344.8 532.8,439.6 533,340.7 533.2,408.6 533.5,340 533.8,409.4 534,341.6 534.2,428.2 534.5,346.2 534.8,423.6 535,361.3 535.2,406.6 535.5,333.3 535.8,421.2 536,351.8 536.2,430.6 536.5,354.1 536.8,406.4 537,337 537.2,406.2 537.5,339.6 537.8,428.7 538,331.8 538.2,421.4 538.5,308.2 538.8,416.9 539,318 539.2,411.9 539.5,322 539.8,413 540,325.6 540.2,408.8 540.5,320.1 540.8,407.2 541,315.6 541.2,422.3 541.5,303.2 541.8,416.7 542,318.6 542.2,410.6 542.5,329 542.8,424.8 543,313.5 543.2,413 543.5,333.3 543.8,415.1 544,324.7 544.2,411.8 544.5,315.4 544.8,408.5 545,331.1 545.2,419.5 545.5,294.8 545.8,410.2 546,301.9 546.2,415 546.5,305.5 546.8,412.2 547,327.2 547.2,416.6 547.5,293.5 547.8,416.7 548,328.2 548.2,411.2 548.5,319.6 548.8,407.7 549,340 549.2,426 549.5,311.6 549.8,407.3 550,352.6 550.2,411.5 550.5,347.2 550.8,421.6 551,348 551.2,425.5 551.5,345.5 551.8,406 552,351.9 552.2,412.5 552.5,338.6 552.8,423 553,344.3 553.2,413 553.5,334 553.8,419 554,293.2 554.2,409.5 554.5,336.9 554.8,416.4 555,330.4 555.2,418 555.5,330.1 555.8,416.9 556,348.9 556.2,411.1 556.5,338.5 556.8,406.8 557,335.8 557.2,410.4 557.5,337.2 557.8,428.9 558,327.9 558.2,413.4 558.5,338.5 558.8,421 559,326.2 559.2,422.7 559.5,329.8 559.8,413.2 560,342.9 560.2,414.1 560.5,315.4 560.8,440.1 561,322.8 561.2,420.9 561.5,328.3 561.8,410.2 562,308.7 562.2,414.6 562.5,295.6 562.8,420.1 563,321.5 563.2,424 563.5,358 563.8,423.6 564,364.7 564.2,434.5 564.5,372.4 564.8,451.8 565,383.8 565.2,442.6 565.5,403.8 565.8,446.1 566,416.2 566.2,452.7 566.5,427.2 566.8,461.5 567,426.5 567.2,463.9 567.5,430 567.8,465.5 568,428.2 568.2,465.5 568.5,456.6 568.8,465.5 569,457 569.2,465.5 569.5,426.7 569.8,465.5 570,418.4 570.2,465.5 570.5,420.5 570.8,465.5 571,427 571.2,465.5 571.5,431.1 571.8,465.5 572,426.8 572.2,465.5 572.5,428.7 572.8,465.5 573,428.8 573.2,465.5 573.5,439.5 573.8,465.5 574,424.9 574.2,465.5 574.5,435.3 574.8,465.5 575,428 575.2,465.5 575.5,424 575.8,465.5 576,437.5 576.2,465.5 576.5,430.6 576.8,465.5 577,433.7 577.2,465.5 577.5,442.3 577.8,465.5 578,442.1 578.2,465.5 578.5,440.7 578.8,465.5 579,436.9 579.2,465.5 579.5,441.7 579.8,465.5 580,439.1 580.2,465.5 580.5,437.2 580.8,465.5 581,444.1 581.2,465.5 581.5,441.3 581.8,465.5 582,443.7 582.2,465.5 582.5,443.3 582.8,465.5 583,439.4 583.2,465.5 583.5,460.9 583.8,465.5 584,460 584.2,465.5 584.5,445 584.8,465.5 585,446.1 585.2,465.5 585.5,434.2 585.8,465.5 586,441.4 586.2,465.5 586.5,448 586.8,465.5 587,449 587.2,465.5 587.5,447 587.8,465.5 588,442.7 588.2,465.5 588.5,450.2 588.8,465.5 589,448.5 589.2,465.5 589.5,449 589.8,465.5 590,451.7 590.2,465.5 590.5,451.4 590.8,465.5 591,450.8 591.2,465.5 591.5,451.9 591.8,465.5 592,452.1 592.2,465.5 592.5,451.7 592.8,465.5 593,446.8 593.2,465.5 593.5,450 593.8,465.5 594,455 594.2,465.5 594.5,463.2 594.8,465.5 595,463.4 595.2,465.5 595.5,462.1 595.8,465.5 596,463.1 596.2,465.5 596.5,455.7 596.8,465.5 597,457.1 597.2,465.5 597.5,457.3 597.8,465.5 598,455.7 598.2,465.5 598.5,463.9 598.8,465.5 599,463.1 599.2,465.5 599.5,457.6 599.8,465.5 600,457.8 600.2,465.5 600.5,458.3 600.8,465.5 601,458.1 601.2,465.5 601.5,456.3 601.8,465.5 602,458 602.2,465.5 602.5,459.2 602.8,465.5 603,459.2 603.2,465.5 603.5,460.2 603.8,465.5 604,460.6 604.2,465.5 604.5,460.9 604.8,465.5 605,461.1 605.2,465.5 605.5,461.2 605.8,465.5 606,461.9 606.2,465.5 606.5,459 606.8,465.5 607,462.1 607.2,465.5 607.5,461.5 607.8,465.5 608,463 608.2,465.5 608.5,463.2 608.8,465.5 609,463.9 609.2,465.5 609.5,463.8 609.8,465.5 610,464.3 610.2,465.5 610.5,464.1 610.8,465.5 611,464.5 611.2,465.5 611.5,465.5 611.8,465.5 612,465.5 612.2,465.5 612.5,465 612.8,465.5 613,465.3 613.2,465.5 613.5,465.2 613.8,465.5 614,465.5 614.2,465.5 614.5,465.5 614.8,465.5 615,465.5 615.2,465.5 615.5,465.5 615.8,465.5 616,465.5 616.2,465.5 616.5,465.5 616.8,465.5 617,465.5 617.2,465.5 617.5,465.5 617.8,465.5 618,465.5 618.2,465.5 618.5,465.5 618.8,465.5 619,465.5 619.2,465.5 619.5,465.5 619.8,465.5 620,465.5 620.2,465.5 620.5,465.5 620.8,465.5 621,465.5 621.2,465.5 621.5,465.5 621.8,465.5 622,465.5 622.2,465.5 622.5,465.5 622.8,465.5 623,465.5 623.2,465.5 623.5,465.5 623.8,465.5 624,465.5 624.2,465.5 624.5,465.5 624.8,465.5 625,465.5 625.2,465.5 625.5,465.5 625.8,465.5 626,465.5 626.2,465.5 626.5,465.5 626.8,465.5 627,465.5 627.2,465.5 627.5,465.5 627.8,465.5 628,465.5 628.2,465.5 628.5,465.5 628.8,465.5 629,465.5 629.2,465.5 629.5,465.5 629.8,465.5 630,465.5 630.2,465.5 630.5,465.5 630.8,465.5 631,465.5 631.2,465.5 631.5,465.5 631.8,465.5 632,465.5 632.2,465.5 632.5,465.5 632.8,465.5 633,465.5 633.2,465.5 633.5,465.5" fill="none" stroke="#ff0000" stroke-width="0.75" stroke-linejoin="round"/>
<line x1="91.5" y1="465.5" x2="633.5" y2="465.5" stroke="#262626" stroke-width="1" opacity="0.7"/>
<g font-family="'Liberation Sans', sans-serif" fill="#262626" font-size="14.6">
<text x="145.5" y="238.2" text-anchor="middle">80</text>
<text x="226.5" y="238.2" text-anchor="middle">100</text>
<text x="308.5" y="238.2" text-anchor="middle">120</text>
<text x="389.5" y="238.2" text-anchor="middle">140</text>
<text x="470.5" y="238.2" text-anchor="middle">160</text>
<text x="552.5" y="238.2" text-anchor="middle">180</text>
<text x="633.5" y="238.2" text-anchor="middle">200</text>
<text x="85.2" y="62.8" text-anchor="end">5</text>
<text x="85.2" y="131.8" text-anchor="end">0</text>
<text x="85.2" y="200.8" text-anchor="end">-5</text>
<text x="91.5" y="487.2" text-anchor="middle">-40</text>
<text x="159.5" y="487.2" text-anchor="middle">-30</text>
<text x="226.5" y="487.2" text-anchor="middle">-20</text>
<text x="294.5" y="487.2" text-anchor="middle">-10</text>
<text x="362.5" y="487.2" text-anchor="middle">0</text>
<text x="430.5" y="487.2" text-anchor="middle">10</text>
<text x="498.5" y="487.2" text-anchor="middle">20</text>
<text x="565.5" y="487.2" text-anchor="middle">30</text>
<text x="633.5" y="487.2" text-anchor="middle">40</text>
<text x="85.2" y="308.8" text-anchor="end">8</text>
<text x="85.2" y="348.8" text-anchor="end">6</text>
<text x="85.2" y="389.8" text-anchor="end">4</text>
<text x="85.2" y="430.8" text-anchor="end">2</text>
<text x="91.6" y="37.7" font-size="17.4" fill-opacity="0.85">×</text><text x="104" y="35.8">10</text><text x="120.4" y="29.4" font-size="12.2">-6</text>
<text x="91.6" y="285.7" font-size="17.4" fill-opacity="0.85">×</text><text x="104" y="283.8">10</text><text x="120.4" y="277.4" font-size="12.2">-4</text>
</g>
<g fill="#262626" font-size="16.1">
<text transform="translate(64.8 128) rotate(-90)" text-anchor="middle" font-family="'Liberation Sans', sans-serif">S(t)</text>
<text transform="translate(70.2 377.3) rotate(-90)" text-anchor="middle" font-family="'Liberation Sans', sans-serif">S(t)</text>
<text x="231.6" y="33.6" font-family="'Liberation Sans', 'Noto Serif CJK SC', serif" font-weight="400" font-size="14.8" letter-spacing="1.6">经过接收机处理后的回波信号的实部</text>
<text x="231.6" y="281.8" font-family="'Liberation Sans', 'Noto Serif CJK SC', serif" font-weight="400" font-size="14.8" letter-spacing="1.6">经过接收机处理后的回波信号的实部</text>
<text x="335.6" y="259.6" font-family="'Liberation Sans', 'Noto Serif CJK SC', serif"><tspan font-weight="400" font-size="14.8" letter-spacing="1.6">时间</tspan><tspan font-size="16.1">/us</tspan></text>
<text x="335.6" y="508.6" font-family="'Liberation Sans', 'Noto Serif CJK SC', serif"><tspan font-weight="400" font-size="14.8" letter-spacing="1.6">时间</tspan><tspan font-size="16.1">/us</tspan></text>
</g>
<g id="wm">
<g transform="translate(0 -2.5)"><g fill="#fff" stroke="#fff" stroke-width="2.5"><path d="M564 488.5c-5 0-9 3.3-9 7.4 0 2.3 1.3 4.3 3.3 5.7l-0.9 2.8 3.2-1.7c1.1 0.3 2.2 0.5 3.4 0.5 5 0 9-3.3 9-7.4s-4-7.3-9-7.3z"/><path d="M574 494.5c-4.4 0-8 2.9-8 6.4s3.6 6.4 8 6.4c1 0 1.9-0.1 2.8-0.4l2.7 1.5-0.7-2.4c1.9-1.2 3.2-3 3.2-5.1 0-3.5-3.6-6.4-8-6.4z"/></g><g fill="#fff" stroke="#777" stroke-width="0.7" stroke-dasharray="1.6 2.2"><path d="M564 488.5c-5 0-9 3.3-9 7.4 0 2.3 1.3 4.3 3.3 5.7l-0.9 2.8 3.2-1.7c1.1 0.3 2.2 0.5 3.4 0.5 5 0 9-3.3 9-7.4s-4-7.3-9-7.3z" stroke-opacity="0.55"/><path d="M574 494.5c-4.4 0-8 2.9-8 6.4s3.6 6.4 8 6.4c1 0 1.9-0.1 2.8-0.4l2.7 1.5-0.7-2.4c1.9-1.2 3.2-3 3.2-5.1 0-3.5-3.6-6.4-8-6.4z" stroke-opacity="0.8"/></g></g>
<g font-family="'Liberation Sans', 'Noto Sans CJK SC', sans-serif" font-size="17.2">
<text x="589" y="500.5" fill="#fff" stroke="#fff" stroke-width="2.2" textLength="87" lengthAdjust="spacingAndGlyphs">天天Matlab</text>
<text x="588.6" y="501" fill="#444" stroke="#444" stroke-width="1.2" textLength="87" lengthAdjust="spacingAndGlyphs">天天Matlab</text>
<text x="589" y="500.5" fill="#fff" textLength="87" lengthAdjust="spacingAndGlyphs">天天Matlab</text>
</g>
<text x="604" y="513.4" font-family="'Liberation Sans', 'Noto Sans CJK SC', sans-serif" font-size="13" fill="#fff" stroke="#bdbdbd" stroke-width="0.8" paint-order="stroke" textLength="86" lengthAdjust="spacingAndGlyphs">@51CTO博客</text>
</g>
</svg>
</body>
</html>
